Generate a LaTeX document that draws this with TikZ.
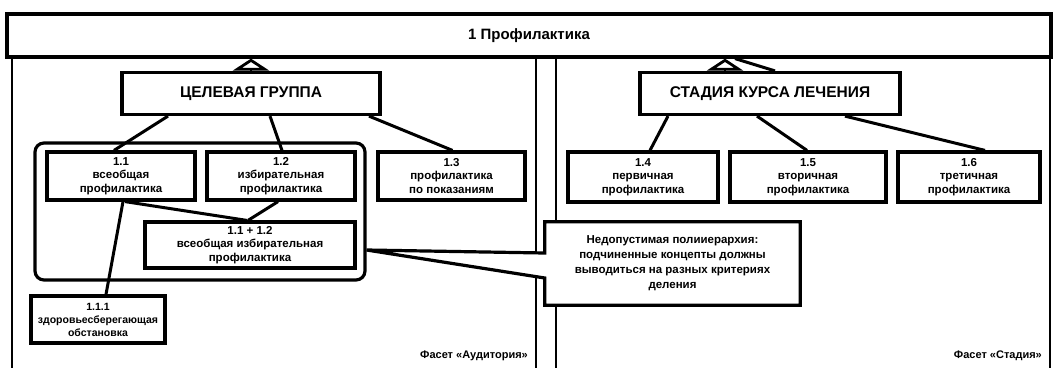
\documentclass[tikz,border=0pt]{standalone}
\usepackage{fontspec}
\setmainfont{Liberation Sans}
\usetikzlibrary{arrows.meta,calc}
\begin{document}
\begin{tikzpicture}[x=1pt,y=-1pt,
  box/.style={draw, line width=3.2pt, align=center, inner sep=1pt,
    font=\fontsize{11.5}{13.5}\selectfont\bfseries},
  head/.style={box, font=\fontsize{15.5}{17}\selectfont\bfseries},
  conn/.style={line width=3pt},
  panel/.style={line width=2.8pt},
  gen/.style={line width=2.8pt, -{Triangle[open,width=36pt,length=12pt,line width=2.8pt]}},
  facet/.style={font=\fontsize{11}{12}\selectfont\bfseries, anchor=east, inner sep=0pt}
]
\useasboundingbox (0,0) rectangle (1057,368);
% panels
\coordinate (pl1) at (12,57); \coordinate (pl2) at (12,368);
\coordinate (pl3) at (536,57); \coordinate (pl4) at (536,368);
\coordinate (pr1) at (556,57); \coordinate (pr2) at (556,368);
\coordinate (pr3) at (1050,57); \coordinate (pr4) at (1050,368);
\draw[panel] (pl1) -- (pl2); \draw[panel] (pl3) -- (pl4);
\draw[panel] (pr1) -- (pr2); \draw[panel] (pr3) -- (pr4);
% top box
\node[head, fill=white, minimum width=1044pt, minimum height=43pt, font=\fontsize{15}{17}\selectfont\bfseries] (top) at (529,35.5) {1 Профилактика};
% facet heads
\node[head, minimum width=258pt, minimum height=42pt] (group) at (251,93.5) {ЦЕЛЕВАЯ ГРУППА};
\node[head, minimum width=260pt, minimum height=42pt] (stage) at (770,93.5) {СТАДИЯ КУРСА ЛЕЧЕНИЯ};
% container
\node[draw, line width=3.2pt, rounded corners=9pt, minimum width=330pt, minimum height=137pt] (cont) at (200,211.5) {};
% concept boxes
\node[box, minimum width=148pt, minimum height=48pt] (b11) at (121,176) {1.1\\всеобщая\\профилактика};
\node[box, minimum width=148pt, minimum height=48pt] (b12) at (281,176) {1.2\\избирательная\\профилактика};
\node[box, minimum width=147pt, minimum height=48pt] (b13) at (451.5,176) {1.3\\профилактика\\по показаниям};
\node[box, minimum width=210pt, minimum height=46pt] (b112) at (250,245) {1.1 + 1.2\\всеобщая избирательная\\профилактика};
\node[box, minimum width=134pt, minimum height=47pt, font=\fontsize{10.5}{13}\selectfont\bfseries] (b111) at (98,319.5) {1.1.1\\здоровьесберегающая\\обстановка};
\node[box, minimum width=150pt, minimum height=50pt] (b14) at (643,177) {1.4\\первичная\\профилактика};
\node[box, minimum width=156pt, minimum height=50pt] (b15) at (808,177) {1.5\\вторичная\\профилактика};
\node[box, minimum width=142pt, minimum height=50pt] (b16) at (969,177) {1.6\\третичная\\профилактика};
% note (callout)
\node[minimum width=255pt, minimum height=83pt, inner sep=0pt] (note) at (672.5,263.5) {};
\coordinate (tip) at ([yshift=-38.5pt]cont.east);
\draw[line width=3.2pt, fill=white, line join=miter]
  (note.north west) -- (note.north east) -- (note.south east) -- (note.south west)
  -- ([yshift=-14.5pt]note.west) -- (tip) -- ([yshift=10.5pt]note.west) -- cycle;
\node[align=center, font=\fontsize{11.5}{15}\selectfont\bfseries] (notetext) at (note) {Недопустимая полииерархия:\\подчиненные концепты должны\\выводиться на разных критериях\\деления};
% generalisation arrows
\draw[gen] (group.north) -- (group.north |- top.south);
\draw[gen] ([xshift=-45pt]stage.north) -- ([xshift=-45pt]stage.north |- top.south);
\draw[conn] ([xshift=5pt]stage.north) -- ([xshift=-35pt]stage.north |- top.south);
% connectors left
\draw[conn] ([xshift=-83pt]group.south) -- ([xshift=-7pt]b11.north);
\draw[conn] ([xshift=19pt]group.south) -- ([xshift=1pt]b12.north);
\draw[conn] ([xshift=118pt]group.south) -- ([xshift=1pt]b13.north);
\draw[conn] ([xshift=2pt]b11.south) -- ([xshift=8pt]b111.north);
\draw[conn] ([xshift=4pt]b11.south) -- ([xshift=-3pt]b112.north);
\draw[conn] ([xshift=-3pt]b12.south) -- ([xshift=-2pt]b112.north);
% connectors right
\draw[conn] ([xshift=-102pt]stage.south) -- ([xshift=7pt]b14.north);
\draw[conn] ([xshift=-13pt]stage.south) -- ([xshift=-1pt]b15.north);
\draw[conn] ([xshift=75pt]stage.south) -- ([xshift=16pt]b16.north);
% facet labels
\node[facet] (fa) at (528,356) {Фасет «Аудитория»};
\node[facet] (fs) at (1042,356) {Фасет «Стадия»};
\end{tikzpicture}
\end{document}
